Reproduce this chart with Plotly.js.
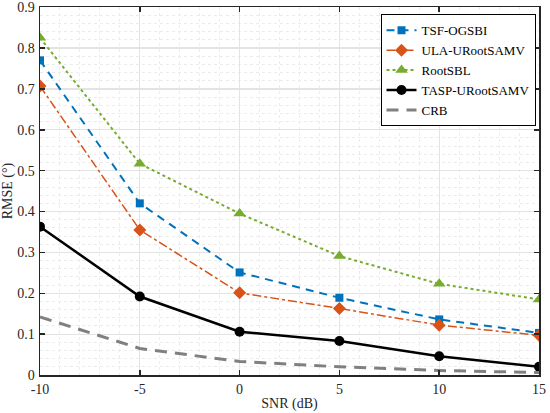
<!DOCTYPE html>
<html><head><meta charset="utf-8">
<script src="https://cdn.plot.ly/plotly-3.0.1.min.js"></script>
<style>html,body{margin:0;padding:0;background:#fff}#chart{width:550px;height:413px}</style>
</head><body><div id="chart"></div>
<script>
const snr = [-10, -5, 0, 5, 10, 15];
const tsfOgsbi = [0.770, 0.420, 0.251, 0.189, 0.136, 0.103];
const ulaURootSamv = [0.707, 0.355, 0.201, 0.163, 0.122, 0.097];
const rootSbl = [0.825, 0.517, 0.395, 0.291, 0.223, 0.185];
const taspURootSamv = [0.363, 0.192, 0.106, 0.083, 0.046, 0.020];
const crb = [0.142, 0.065, 0.033, 0.020, 0.011, 0.006];
const xTicks = [-10, -5, 0, 5, 10, 15];
const yTicks = [0, 0.1, 0.2, 0.3, 0.4, 0.5, 0.6, 0.7, 0.8, 0.9];

const FONT = 'Liberation Serif';

const traces = [
  {x: snr, y: tsfOgsbi, name: 'TSF-OGSBI', mode: 'lines+markers',
   line: {color: '#0072BD', width: 2, dash: '8px,6px'},
   marker: {symbol: 'square', size: 8, color: '#0072BD'}},
  {x: snr, y: ulaURootSamv, name: 'ULA-URootSAMV', mode: 'lines+markers',
   line: {color: '#D95319', width: 1.5, dash: 'dashdot'},
   marker: {symbol: 'diamond', size: 10, color: '#D95319'}},
  {x: snr, y: rootSbl, name: 'RootSBL', mode: 'lines+markers',
   line: {color: '#77AC30', width: 2, dash: 'dot'},
   marker: {symbol: 'triangle-up', size: 11, color: '#77AC30'}},
  {x: snr, y: taspURootSamv, name: 'TASP-URootSAMV', mode: 'lines+markers',
   line: {color: '#000000', width: 2.5},
   marker: {symbol: 'circle', size: 10, color: '#000000'}},
  {x: snr, y: crb, name: 'CRB', mode: 'lines',
   line: {color: '#808080', width: 3, dash: '12px,8px'}}
];

const axisCommon = {
  showline: true, linecolor: '#262626', linewidth: 1.5, mirror: 'allticks',
  ticks: 'inside', ticklen: 5, tickcolor: '#262626', tickwidth: 1.5,
  showgrid: true, gridcolor: '#e3e3e3', gridwidth: 1.2, zeroline: false,
  tickfont: {family: FONT, size: 14, color: '#262626'}
};

const layout = {
  width: 550, height: 413,
  margin: {l: 40, r: 11, t: 7, b: 38},
  paper_bgcolor: '#ffffff', plot_bgcolor: '#ffffff',
  showlegend: true,
  font: {family: FONT, color: '#000'},
  xaxis: Object.assign({}, axisCommon, {
    range: [-10, 15], tickvals: xTicks, ticktext: xTicks.map(String),
    ticklabelstandoff: 1,
    title: {text: 'SNR (dB)', font: {size: 14, family: FONT, color: '#262626'}, standoff: 2},
    minor: {dtick: 1, showgrid: true, gridcolor: '#ececec', griddash: 'dot', gridwidth: 1, ticks: ''}
  }),
  yaxis: Object.assign({}, axisCommon, {
    range: [0, 0.9005], tickvals: yTicks, ticktext: yTicks.map(v => v === 0 ? '0' : v.toFixed(1)),
    ticklabelstandoff: 1,
    title: {text: 'RMSE (°)', font: {size: 14, family: FONT, color: '#262626'}, standoff: 4},
    minor: {dtick: 0.02, showgrid: true, gridcolor: '#ececec', griddash: 'dot', gridwidth: 1, ticks: ''}
  }),
  legend: {
    x: 0.993, y: 0.98, xanchor: 'right', yanchor: 'top',
    bgcolor: '#ffffff', bordercolor: '#000', borderwidth: 1,
    font: {family: FONT, size: 13, color: '#000'},
    tracegroupgap: 0, itemwidth: 30
  }
};

Plotly.newPlot('chart', traces, layout, {displayModeBar: false, staticPlot: true});
</script></body></html>
